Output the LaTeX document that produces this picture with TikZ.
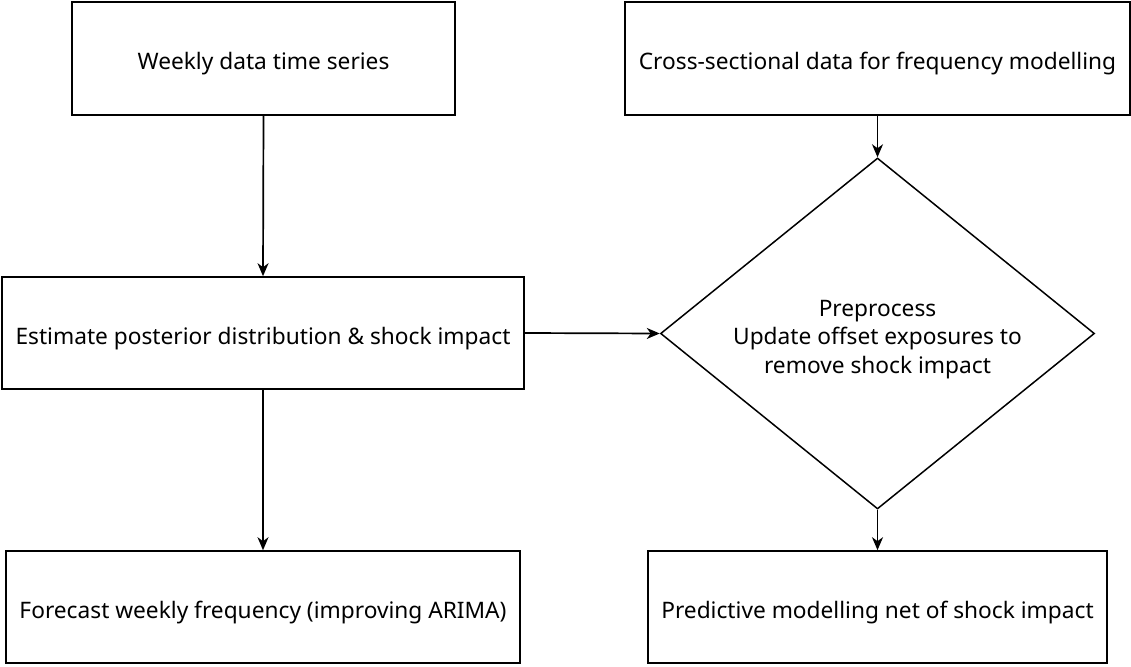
\documentclass[tikz,border=0pt]{standalone}
\usepackage{fontspec}
\setmainfont{Noto Sans}
\usetikzlibrary{shapes.geometric,arrows.meta}
\begin{document}
\begin{tikzpicture}[x=1pt,y=-1pt,
  every node/.style={font=\fontsize{22.7}{28.5}\selectfont, text=black},
  box/.style={draw, line width=1.6pt, inner sep=0pt, align=center, text height=22pt, text depth=0pt},
  decision/.style={draw, diamond, line width=1.5pt, inner sep=0pt},
  conn/.style={line width=1.7pt, -{Stealth[length=13pt,width=11pt,inset=4pt]}}]
\useasboundingbox (0,0) rectangle (1131,666);
\node[box, minimum width=383pt, minimum height=113pt] (wk) at (263.5,58.5) {Weekly data time series};
\node[box, minimum width=505pt, minimum height=113pt] (cs) at (877.5,58.5) {Cross-sectional data for frequency modelling};
\node[box, minimum width=522pt, minimum height=112pt] (est) at (263,333) {Estimate posterior distribution \& shock impact};
\node[decision, minimum width=434pt, minimum height=351pt,
  label={[align=center, yshift=-6pt]center:Preprocess\\Update offset exposures to\\remove shock impact}] (pre) at (877.5,333.5) {};
\node[box, minimum width=514pt, minimum height=112pt] (fc) at (263,607) {Forecast weekly frequency (improving ARIMA)};
\node[box, minimum width=459pt, minimum height=112pt] (pm) at (877.5,607) {Predictive modelling net of shock impact};
\draw[conn] (wk.south) -- (est.north);
\draw[conn] (est.east) -- (pre.west);
\draw[conn] (est.south) -- (fc.north);
\draw[conn] (cs.south) -- (pre.north);
\draw[conn] (pre.south) -- (pm.north);
\end{tikzpicture}
\end{document}
